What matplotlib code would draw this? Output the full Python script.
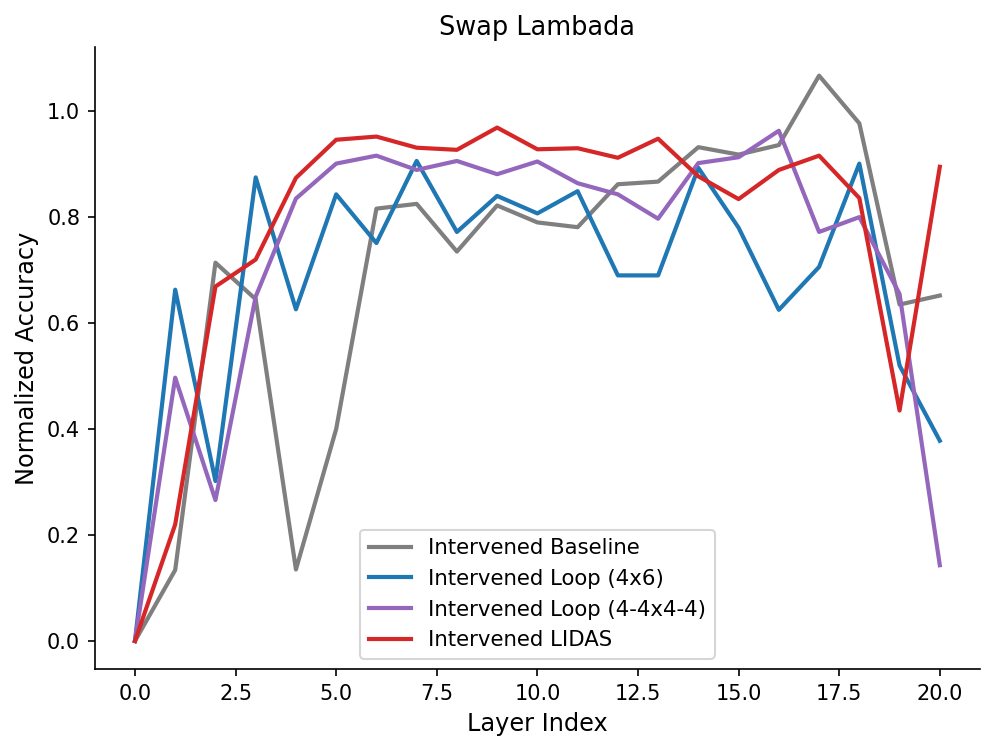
import matplotlib
matplotlib.use("Agg")
import matplotlib.pyplot as plt

layers = list(range(21))

baseline = [0.0, 0.134, 0.714, 0.645, 0.135, 0.40, 0.816, 0.825, 0.735, 0.822,
            0.790, 0.781, 0.862, 0.867, 0.932, 0.918, 0.936, 1.067, 0.977, 0.635, 0.652]
loop_4x6 = [0.0, 0.663, 0.302, 0.875, 0.626, 0.843, 0.751, 0.906, 0.772, 0.840,
            0.807, 0.849, 0.690, 0.690, 0.893, 0.780, 0.625, 0.706, 0.901, 0.520, 0.378]
loop_4_4x4_4 = [0.0, 0.497, 0.266, 0.650, 0.835, 0.901, 0.916, 0.889, 0.906, 0.881,
                0.905, 0.864, 0.843, 0.797, 0.902, 0.913, 0.963, 0.772, 0.800, 0.655, 0.143]
lidas = [0.0, 0.220, 0.669, 0.720, 0.874, 0.946, 0.952, 0.931, 0.927, 0.969,
         0.928, 0.930, 0.912, 0.948, 0.877, 0.834, 0.889, 0.916, 0.836, 0.435, 0.895]

fig, ax = plt.subplots(figsize=(997 / 150, 752 / 150), dpi=150)

ax.plot(layers, baseline, color="tab:gray", lw=2, label="Intervened Baseline")
ax.plot(layers, loop_4x6, color="tab:blue", lw=2, label="Intervened Loop (4x6)")
ax.plot(layers, loop_4_4x4_4, color="tab:purple", lw=2, label="Intervened Loop (4-4x4-4)")
ax.plot(layers, lidas, color="tab:red", lw=2, label="Intervened LIDAS")

ax.set_title("Swap Lambada", fontsize=12.3)
ax.set_xlabel("Layer Index", fontsize=11.5)
ax.set_ylabel("Normalized Accuracy", fontsize=11.5)
ax.spines["top"].set_visible(False)
ax.spines["right"].set_visible(False)
ax.legend(loc="lower center", fontsize=10.2)

fig.tight_layout()
fig.subplots_adjust(left=0.095, right=0.983, top=0.937, bottom=0.11)
fig.savefig("out.png", dpi=150)
